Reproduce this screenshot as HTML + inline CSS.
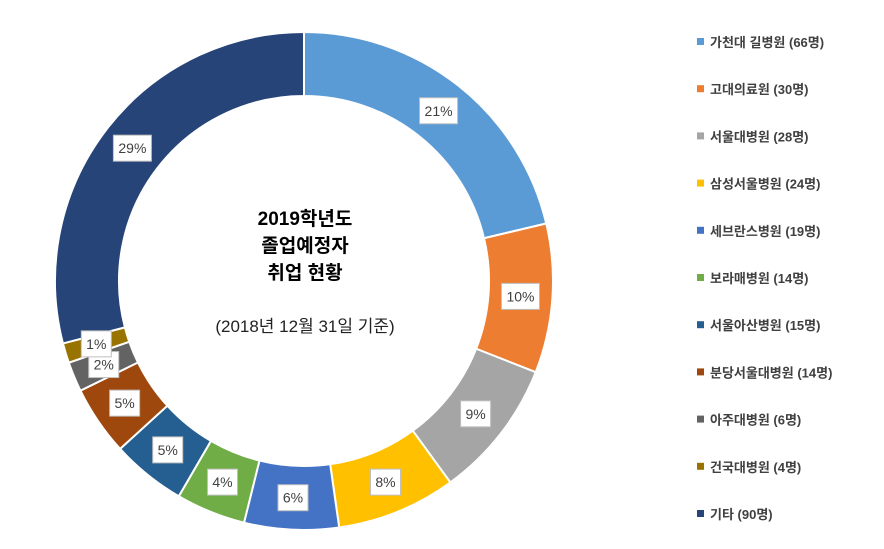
<!DOCTYPE html>
<html><head><meta charset="utf-8">
<style>
body{margin:0;background:#fff;width:884px;height:544px;overflow:hidden;font-family:"Liberation Sans","Noto Sans CJK KR",sans-serif;}
</style></head>
<body>
<svg id="chart" width="884" height="544" xmlns="http://www.w3.org/2000/svg">
<g id="slices"></g>
<g id="labels"></g>
<g id="legend"></g>
<g font-family="'Liberation Sans','Noto Sans CJK KR',sans-serif" text-anchor="middle">
<text x="305" y="225" font-size="19" font-weight="bold" fill="#000">2019학년도</text>
<text x="305" y="252" font-size="19" font-weight="bold" fill="#000">졸업예정자</text>
<text x="305" y="279" font-size="19" font-weight="bold" fill="#000">취업 현황</text>
<text x="305" y="332" font-size="17" fill="#222">(2018년 12월 31일 기준)</text>
</g>
</svg>
<script>
const categories=["가천대 길병원","고대의료원","서울대병원","삼성서울병원","세브란스병원","보라매병원","서울아산병원","분당서울대병원","아주대병원","건국대병원","기타"];
const values=[66,30,28,24,19,14,15,14,6,4,90];
const colors=["#5B9BD5","#ED7D31","#A5A5A5","#FFC000","#4472C4","#70AD47","#255E91","#9E480E","#636363","#997300","#264478"];
const NS="http://www.w3.org/2000/svg";
const cx=304,cy=281,R=249,r=185,rl=217;
const total=values.reduce((a,b)=>a+b,0);
// largest-remainder rounding of percentages
const raw=values.map(v=>v/total*100);
const pct=raw.map(Math.floor);
let left=100-pct.reduce((a,b)=>a+b,0);
const order=raw.map((x,i)=>i).sort((a,b)=>{const d=(raw[b]-pct[b])-(raw[a]-pct[a]);return Math.abs(d)>1e-9?d:b-a;});
for(let k=0;k<left;k++)pct[order[k]]++;
const sg=document.getElementById('slices'),lg=document.getElementById('labels'),leg=document.getElementById('legend');
function pt(a,rad){return [cx+rad*Math.sin(a),cy-rad*Math.cos(a)];}
let acc=0;
values.forEach((v,i)=>{
  const a0=acc/total*2*Math.PI;acc+=v;const a1=acc/total*2*Math.PI;
  const large=(a1-a0)>Math.PI?1:0;
  const p0=pt(a0,R),p1=pt(a1,R),q1=pt(a1,r),q0=pt(a0,r);
  const p=document.createElementNS(NS,'path');
  p.setAttribute('d',`M${p0[0]},${p0[1]}A${R},${R} 0 ${large} 1 ${p1[0]},${p1[1]}L${q1[0]},${q1[1]}A${r},${r} 0 ${large} 0 ${q0[0]},${q0[1]}Z`);
  p.setAttribute('fill',colors[i]);p.setAttribute('stroke','#fff');p.setAttribute('stroke-width','2');
  
  
  sg.appendChild(p);
  const m=(a0+a1)/2;const c=pt(m,rl);
  const txt=pct[i]+'%';
  const w=txt.length>2?38:30;
  const g=document.createElementNS(NS,'g');
  
  
  const rc=document.createElementNS(NS,'rect');
  rc.setAttribute('x',c[0]-w/2);rc.setAttribute('y',c[1]-13);rc.setAttribute('width',w);rc.setAttribute('height',26);
  rc.setAttribute('fill','#fff');rc.setAttribute('stroke','#bfbfbf');rc.setAttribute('stroke-width','1');
  g.appendChild(rc);
  const t=document.createElementNS(NS,'text');
  t.setAttribute('x',c[0]);t.setAttribute('y',c[1]+5);t.setAttribute('text-anchor','middle');
  t.setAttribute('font-size','14');t.setAttribute('fill','#404040');t.textContent=txt;
  g.appendChild(t);lg.appendChild(g);
  const e=document.createElementNS(NS,'g');
  
  
  const y=42+i*47.2;
  const s=document.createElementNS(NS,'rect');
  s.setAttribute('x',697);s.setAttribute('y',y-4);s.setAttribute('width',7);s.setAttribute('height',7);s.setAttribute('fill',colors[i]);
  e.appendChild(s);
  const lt=document.createElementNS(NS,'text');
  lt.setAttribute('x',710);lt.setAttribute('y',y+5);lt.setAttribute('font-size','13');lt.setAttribute('font-weight','bold');lt.setAttribute('fill','#404040');
  lt.textContent=categories[i]+' ('+v+'명)';
  e.appendChild(lt);leg.appendChild(e);
});
</script>
</body></html>
